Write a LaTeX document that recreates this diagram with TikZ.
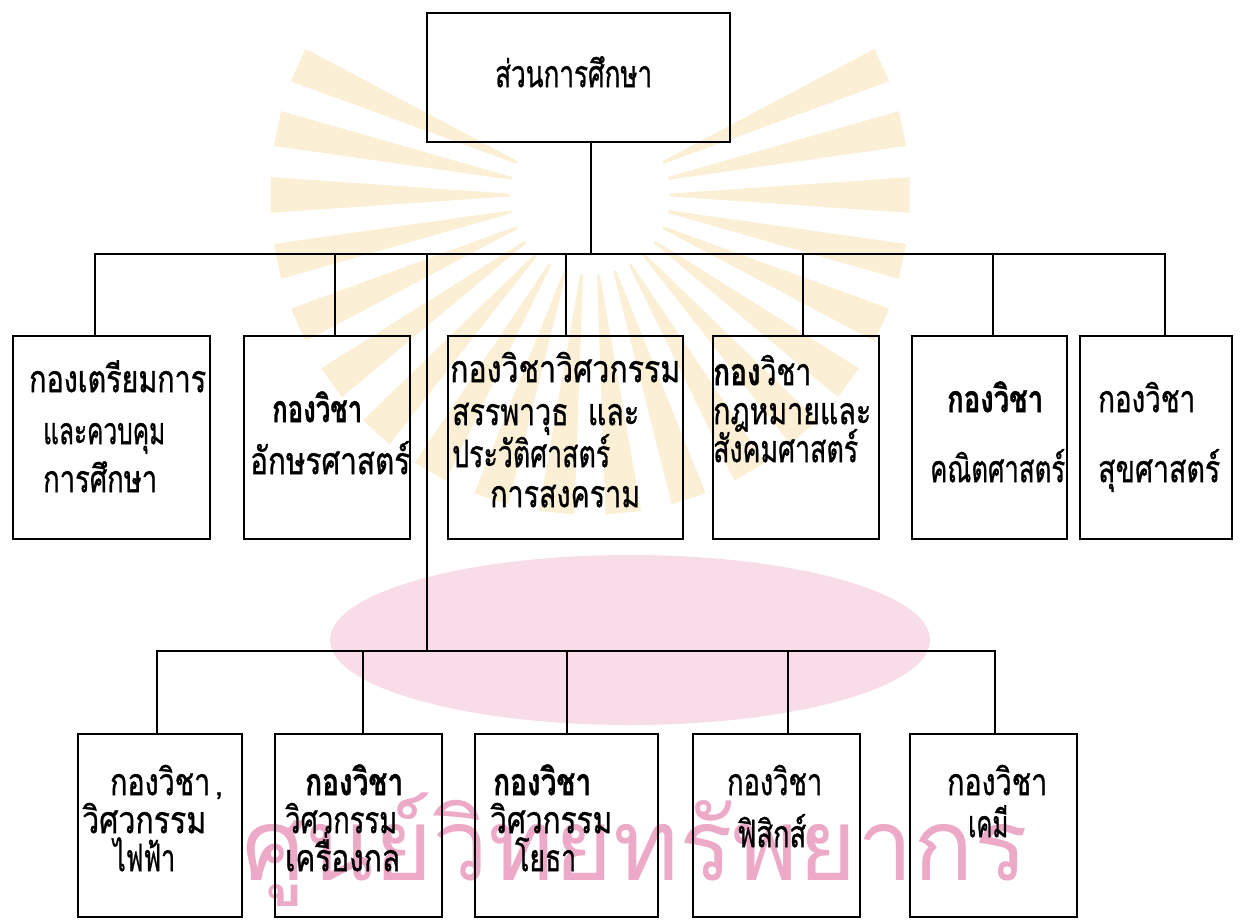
\documentclass[tikz,border=0pt]{standalone}
\usepackage{fontspec}
\usepackage{graphicx}
\usetikzlibrary{calc}
\newfontfamily\thai[Script=Thai,FakeBold=1]{Loma}
\newfontfamily\thaiwm[Script=Thai]{Loma}
\newcommand{\tl}[2]{\resizebox{#1pt}{1.3\height}{#2}}
\definecolor{rayc}{RGB}{242,208,120}
\definecolor{pinkc}{RGB}{240,180,204}
\definecolor{pinkt}{RGB}{236,170,200}
\begin{document}
\begin{tikzpicture}[x=1pt,y=-1pt,
  box/.style={draw, line width=2.8pt, rectangle, inner sep=0pt},
  conn/.style={line width=2.8pt, line cap=rect},
  txt/.style={font=\thai\fontsize{29}{34}\selectfont, anchor=mid west, inner sep=0pt, yshift=-5pt},
  wm/.style={font=\thaiwm\fontsize{100}{110}\selectfont, text=pinkt, inner sep=0pt}]
\fill[white] (0,0) rectangle (1252,920);
\useasboundingbox (0,0) rectangle (1252,920);
% watermark
\coordinate (sun) at (590,195);
\foreach \a in {-24,-12,...,204}{
  \fill[rayc, opacity=0.3] ($(sun)+(\a-1:80)$) -- ($(sun)+(\a-3.2:320)$) -- ($(sun)+(\a+3.2:320)$) -- ($(sun)+(\a+1:80)$) -- cycle;
}
\fill[pinkc, opacity=0.45] (630,640) ellipse [x radius=300, y radius=85];
\node[wm] (wmtext) at (635,850) {ศูนย์วิทยทรัพยากร};
% boxes
\node[box, minimum width=303pt, minimum height=129pt] (top) at (578.5,77.5) {};
\node[box, minimum width=197pt, minimum height=203pt] (b1) at (111.5,437.5) {};
\node[box, minimum width=166pt, minimum height=203pt] (b2) at (327,437.5) {};
\node[box, minimum width=235pt, minimum height=203pt] (b3) at (565.5,437.5) {};
\node[box, minimum width=166pt, minimum height=203pt] (b4) at (796,437.5) {};
\node[box, minimum width=155pt, minimum height=203pt] (b5) at (989.5,437.5) {};
\node[box, minimum width=152pt, minimum height=203pt] (b6) at (1156,437.5) {};
\node[box, minimum width=164pt, minimum height=183pt] (c1) at (160,825.5) {};
\node[box, minimum width=167pt, minimum height=183pt] (c2) at (358.5,825.5) {};
\node[box, minimum width=183pt, minimum height=183pt] (c3) at (566.5,825.5) {};
\node[box, minimum width=167pt, minimum height=183pt] (c4) at (776.5,825.5) {};
\node[box, minimum width=167pt, minimum height=183pt] (c5) at (993.5,825.5) {};
% junctions
\coordinate (j0) at (591,254);
\coordinate (p1) at (95,254);
\coordinate (p2) at (335,254);
\coordinate (p3) at (566,254);
\coordinate (p4) at (803,254);
\coordinate (p5) at (993,254);
\coordinate (p6) at (1165,254);
\coordinate (q0) at (427,254);
\coordinate (r0) at (427,651);
\coordinate (s1) at (157,651);
\coordinate (s2) at (363,651);
\coordinate (s3) at (567,651);
\coordinate (s4) at (788,651);
\coordinate (s5) at (995,651);
% connectors
\draw[conn] (top.south -| j0) -- (j0);
\draw[conn] (p1 |- b1.north) -- (p1) -- (p6) -- (p6 |- b6.north);
\foreach \i in {2,3,4,5}{\draw[conn] (p\i) -- (p\i |- b\i.north);}
\draw[conn] (q0) -- (r0);
\draw[conn] (s1 |- c1.north) -- (s1) -- (s5) -- (s5 |- c5.north);
\foreach \i in {2,3,4}{\draw[conn] (s\i) -- (s\i |- c\i.north);}
% texts
\node[txt] (t0) at (495,80) {\tl{157}{ส่วนการศึกษา}};
\node[txt] (t11) at (29,385) {\tl{177}{กองเตรียมการ}};
\node[txt] (t12) at (43,437) {\tl{122}{และควบคุม}};
\node[txt] (t13) at (43,485) {\tl{114}{การศึกษา}};
\node[txt] (t21) at (272,415) {\tl{90}{\bfseries กองวิชา}};
\node[txt] (t22) at (250,467) {\tl{160}{อักษรศาสตร์}};
\node[txt] (t31) at (450,375) {\tl{230}{กองวิชาวิศวกรรม}};
\node[txt] (t32) at (452,418) {\tl{187}{สรรพาวุธ\ \ และ}};
\node[txt] (t33) at (452,460) {\tl{158}{ประวัติศาสตร์}};
\node[txt] (t34) at (490,500) {\tl{150}{การสงคราม}};
\node[txt] (t41) at (713,378) {\tl{98}{\bfseries กอง\mdseries วิชา}};
\node[txt] (t42) at (713,417) {\tl{158}{กฎหมายและ}};
\node[txt] (t43) at (713,455) {\tl{145}{สังคมศาสตร์}};
\node[txt] (t51) at (947,405) {\tl{96}{\bfseries กองวิชา}};
\node[txt] (t52) at (930,475) {\tl{135}{คณิตศาสตร์}};
\node[txt] (t61) at (1098,405) {\tl{97}{กองวิชา}};
\node[txt] (t62) at (1098,475) {\tl{122}{สุขศาสตร์}};
\node[txt] (u11) at (110,788) {\tl{100}{กองวิชา}\,,};
\node[txt] (u12) at (82,826) {\tl{124}{วิศวกรรม}};
\node[txt] (u13) at (113,864) {\tl{62}{ไฟฟ้า}};
\node[txt] (u21) at (305,788) {\tl{98}{\bfseries กองวิชา}};
\node[txt] (u22) at (285,826) {\tl{112}{วิศวกรรม}};
\node[txt] (u23) at (285,864) {\tl{115}{เครื่องกล}};
\node[txt] (u31) at (493,788) {\tl{98}{\bfseries กองวิชา}};
\node[txt] (u32) at (490,826) {\tl{122}{วิศวกรรม}};
\node[txt] (u33) at (515,864) {\tl{61}{โยธา}};
\node[txt] (u41) at (727,788) {\tl{95}{กองวิชา}};
\node[txt] (u42) at (737,840) {\tl{69}{ฟิสิกส์}};
\node[txt] (u51) at (947,788) {\tl{100}{กองวิชา}};
\node[txt] (u52) at (968,830) {\tl{40}{เคมี}};
\end{tikzpicture}
\end{document}
